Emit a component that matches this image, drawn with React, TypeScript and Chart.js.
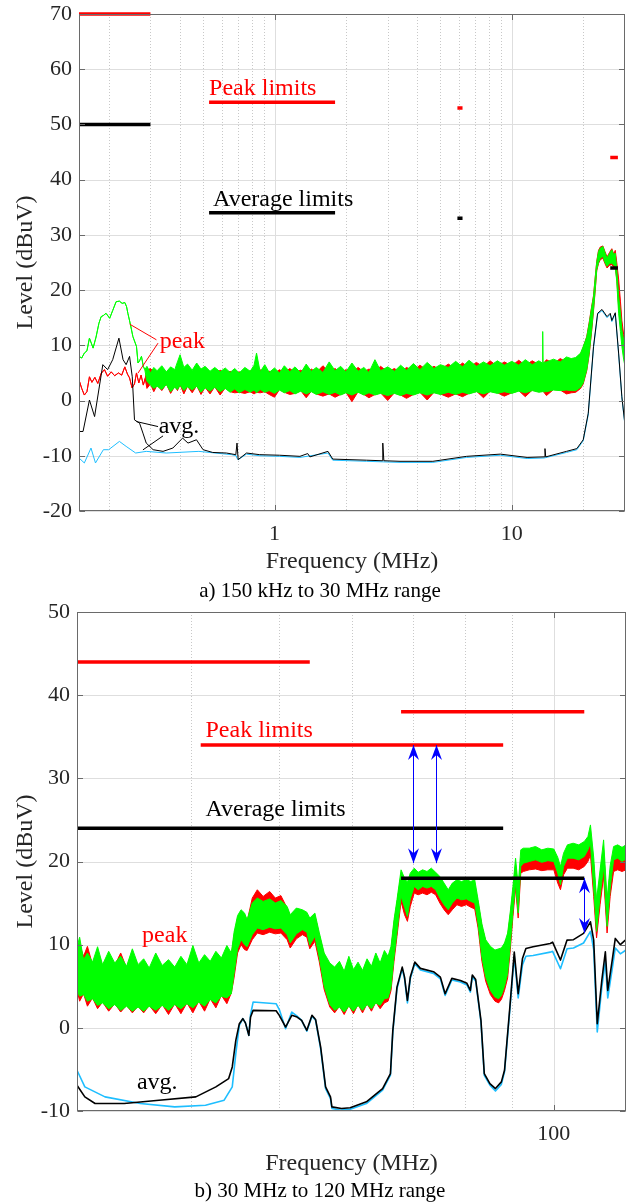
import React, { useEffect, useRef } from "react";
import { Chart, registerables } from "chart.js";

Chart.register(...registerables);

// ================= a) 150 kHz to 30 MHz =================
const topYTicks = [-20, -10, 0, 10, 20, 30, 40, 50, 60, 70];
const topXTicks = [1, 10];
const topXMinor = [0.2, 0.3, 0.4, 0.5, 0.6, 0.7, 0.8, 0.9, 2, 3, 4, 5, 6, 7, 8, 9, 20];

const topGreenLeftF = [0.15, 0.154, 0.158, 0.162, 0.166, 0.172, 0.177, 0.182, 0.186, 0.19,
  0.195, 0.202, 0.208, 0.215, 0.222, 0.228, 0.234, 0.238, 0.241, 0.247,
  0.253, 0.262, 0.266, 0.27, 0.275, 0.28, 0.284];
const topGreenLeftV = [8.0, 7.7, 8.6, 9.0, 11.3, 9.5, 11.5, 14.0, 15.2, 15.4,
  15.8, 14.9, 16.3, 17.9, 18.0, 17.6, 17.75, 17.0, 15.8, 13.8,
  11.6, 9.8, 6.8, 7.2, 8.0, 6.2, 5.6];

const topRedLeftF = [0.15, 0.154, 0.158, 0.162, 0.166, 0.17, 0.175, 0.18, 0.186, 0.192,
  0.198, 0.205, 0.212, 0.22, 0.227, 0.234, 0.24, 0.245, 0.251, 0.257,
  0.262, 0.268, 0.274, 0.28, 0.285];
const topRedLeftV = [3.75, 2.2, 1.0, 1.6, 4.3, 3.3, 4.2, 3.1, 4.9, 5.6,
  4.4, 5.2, 4.5, 5.0, 4.6, 6.1, 4.8, 4.1, 2.3, 3.0,
  5.0, 3.2, 4.6, 2.8, 4.0];

const topBandF = [
  0.29, 0.30, 0.31, 0.32, 0.335, 0.35, 0.365, 0.38, 0.39, 0.40,
  0.415, 0.43, 0.45, 0.47, 0.49, 0.51, 0.535, 0.56, 0.59, 0.62,
  0.65, 0.68, 0.71, 0.75, 0.79, 0.82, 0.84, 0.87, 0.91, 0.95,
  1.0, 1.05, 1.1, 1.16, 1.22, 1.29, 1.36, 1.43, 1.5, 1.6,
  1.7, 1.8, 1.9, 2.0, 2.12, 2.25, 2.38, 2.5, 2.65, 2.8,
  3.0, 3.2, 3.4, 3.6, 3.85, 4.1, 4.4, 4.7, 5.0, 5.4,
  5.8, 6.2, 6.6, 7.1, 7.6, 8.1, 8.7, 9.3, 10, 10.7,
  11.4, 12.2, 13.0, 13.45, 13.5, 13.55, 14.0, 15.0, 16.0, 17.0,
  17.8, 18.6, 19.5, 20.0, 20.7, 21.2, 21.7, 22.1, 22.5, 22.8,
  23.2, 23.6, 24.2, 24.7, 25.2, 25.8, 26.4, 26.9, 27.3, 27.7,
  28.2, 28.7, 29.1, 29.6, 30.0];
const topGreenHi = [
  6.2, 5.0, 6.0, 5.4, 6.3, 5.2, 6.1, 5.6, 7.0, 8.3,
  6.0, 6.6, 5.5, 6.8, 5.7, 6.2, 5.3, 6.0, 5.2, 5.9,
  5.1, 5.8, 5.0, 6.0, 5.3, 6.4, 8.6, 5.2, 6.5, 5.1,
  5.9, 5.0, 6.3, 5.2, 6.1, 5.0, 6.6, 5.3, 6.0, 5.1,
  7.0, 5.4, 6.2, 5.2, 6.8, 5.3, 6.0, 5.1, 7.4, 5.4,
  6.1, 5.3, 6.4, 5.5, 6.7, 5.6, 6.9, 5.8, 6.5, 6.0,
  7.1, 6.1, 7.3, 6.2, 7.0, 6.3, 7.2, 6.4, 7.1, 6.4,
  7.4, 6.5, 7.2, 6.8, 12.5, 6.9, 7.0, 7.5, 7.0, 7.9,
  7.6, 7.8, 8.6, 9.8, 11.5, 14.0, 16.8, 18.8, 22.5, 25.0,
  27.0, 27.6, 27.9, 26.8, 25.8, 26.6, 27.3, 26.4, 26.7, 23.7,
  19.0, 15.9, 12.8, 11.0, 7.4];
const topGreenLo = [
  3.5, 2.8, 2.2, 2.6, 2.0, 2.9, 1.6, 2.4, 2.0, 2.8,
  1.8, 2.5, 1.9, 2.6, 1.5, 2.3, 1.7, 2.4, 1.6, 2.2,
  1.5, 2.1, 1.4, 2.0, 1.5, 1.9, 1.4, 2.0, 1.5, 1.8,
  1.3, 1.9, 1.4, 1.8, 1.2, 1.7, 1.2, 1.6, 1.1, 1.6,
  1.1, 1.5, 1.0, 1.4, 1.0, 1.5, 1.0, 1.4, 1.0, 1.3,
  0.9, 1.3, 0.9, 1.3, 1.0, 1.4, 1.0, 1.4, 1.1, 1.5,
  1.1, 1.5, 1.2, 1.6, 1.2, 1.6, 1.3, 1.6, 1.3, 1.7,
  1.4, 1.8, 1.5, 1.6, 1.7, 1.6, 1.6, 1.9, 1.8, 1.9,
  1.8, 1.8, 2.4, 3.2, 5.6, 8.6, 12.8, 16.5, 20.5, 23.7,
  25.0, 25.8, 26.1, 25.0, 24.3, 24.8, 24.9, 24.5, 24.3, 21.5,
  15.8, 12.5, 9.8, 7.5, 6.2];
const topRedHi = [
  5.5, 5.8, 5.2, 4.8, 5.6, 5.0, 5.8, 5.2, 4.6, 5.5,
  4.9, 5.7, 5.0, 5.4, 4.7, 5.6, 5.1, 4.6, 5.5, 4.9,
  5.3, 4.7, 5.2, 4.8, 5.4, 4.9, 5.0, 5.6, 4.8, 5.3,
  4.9, 5.6, 5.0, 5.8, 5.1, 5.5, 5.0, 5.7, 5.1, 6.3,
  5.2, 5.8, 5.0, 5.6, 5.1, 6.0, 5.2, 5.7, 5.3, 6.2,
  5.2, 5.8, 5.1, 6.0, 5.4, 6.4, 5.5, 6.2, 5.6, 6.6,
  5.8, 6.8, 6.0, 6.9, 6.1, 7.2, 6.2, 7.0, 6.3, 7.3,
  6.4, 7.2, 6.5, 6.6, 6.6, 6.6, 7.4, 6.7, 7.6, 7.0,
  7.4, 7.6, 8.4, 9.6, 11.6, 14.2, 17.0, 19.0, 22.6, 25.2,
  27.2, 27.8, 28.0, 27.0, 26.0, 26.8, 27.5, 26.5, 27.2, 25.0,
  22.0, 18.0, 14.5, 12.0, 11.0];
const topRedLo = [
  2.2, 3.0, 1.6, 2.8, 1.8, 3.0, 1.3, 2.6, 1.8, 2.9,
  1.2, 2.6, 1.4, 2.7, 1.1, 2.4, 1.2, 2.5, 1.0, 2.3,
  1.6, 1.4, 1.5, 1.3, 1.6, 1.2, 1.5, 1.4, 1.6, 1.1,
  0.6, 2.0, 1.5, 1.1, 1.3, 1.8, 0.5, 1.7, 1.2, 0.8,
  1.2, 0.6, 1.1, 1.5, -0.2, 1.6, 1.1, 0.5, 1.1, 1.4,
  0.0, 1.4, 1.0, 0.4, 1.1, 1.5, 0.1, 1.5, 1.2, 0.6,
  1.2, 0.7, 1.3, 1.7, 0.5, 1.7, 1.4, 0.8, 1.4, 1.8,
  0.7, 1.9, 1.6, 1.7, 1.8, 1.7, 0.9, 2.0, 1.9, 1.2,
  1.4, 1.5, 2.2, 3.0, 5.4, 8.4, 12.5, 16.2, 20.2, 23.5,
  24.8, 25.5, 25.8, 24.8, 24.0, 24.5, 24.6, 24.2, 24.0, 22.0,
  17.0, 14.0, 11.5, 10.5, 9.5];

const topBlackF = [0.15, 0.156, 0.166, 0.1745, 0.189, 0.198, 0.208, 0.221, 0.23, 0.237,
  0.245, 0.2515, 0.257, 0.27, 0.279, 0.288, 0.308, 0.339, 0.373, 0.41,
  0.432, 0.469, 0.50, 0.549, 0.627, 0.687, 0.695, 0.703, 0.762, 0.867,
  1.05, 1.28, 1.38, 1.41, 1.68, 1.76, 2.44, 2.84, 2.86, 2.89,
  3.38, 4.65, 6.45, 8.95, 11.6, 13.7, 13.8, 13.9, 17.0, 18.8,
  20.0, 21.0, 22.1, 23.0, 24.0, 25.2, 26.0, 26.4, 27.3, 28.2,
  29.1, 30];
const topBlackV = [-5.6, -5.6, 0.1, -2.9, 6.5, 5.6, 7.4, 11.3, 7.4, 6.5,
  8.0, 4.3, -3.5, -4.1, -5.9, -7.7, -8.9, -9.2, -8.6, -6.8,
  -7.7, -7.1, -8.9, -9.4, -9.5, -9.8, -7.7, -10.7, -9.5, -9.8,
  -9.9, -10.1, -9.6, -10.2, -9.2, -10.6, -10.8, -10.9, -7.7, -10.9,
  -11.0, -11.0, -10.1, -9.7, -10.3, -10.2, -8.7, -10.2, -9.2, -8.7,
  -7.1, -2.3, 9.8, 15.8, 16.5, 15.2, 15.8, 14.5, 15.9, 8.6,
  0.7, -4.4];

const topCyanF = [0.15, 0.158, 0.1685, 0.176, 0.19, 0.2, 0.222, 0.237, 0.26, 0.288,
  0.35, 0.48, 0.66, 0.69, 0.695, 0.703, 0.762, 0.867, 1.05, 1.28,
  1.68, 1.76, 2.44, 2.86, 3.38, 4.65, 6.45, 8.95, 11.6, 13.7,
  17.0, 18.8, 20.0, 21.0, 22.1, 23.0, 24.0, 25.2, 26.0, 26.4,
  27.3, 28.2, 29.1, 30];
const topCyanV = [-10.4, -11.3, -8.6, -11.3, -8.9, -8.9, -7.4, -8.3, -9.5, -9.2,
  -9.5, -9.2, -9.8, -10.0, -10.5, -10.7, -9.7, -10.0, -10.1, -10.3,
  -9.5, -10.8, -11.0, -11.1, -11.2, -11.2, -10.3, -9.9, -10.5, -10.4,
  -9.4, -8.9, -7.3, -2.6, 9.5, 15.6, 16.3, 15.0, 15.6, 14.3,
  15.7, 8.4, 0.5, -4.6];

const topLimStart = [0.15, 0.53, 5.9, 26];
const topLimEnd = [0.3, 1.8, 6.2, 28];
const topPeakLim = [70, 54, 53, 44];
const topAvgLim = [50, 34, 33, 24];

const topNoteText = ["Peak limits", "Average limits", "peak", "avg."];
const topNoteF = [0.53, 0.551, 0.328, 0.325];
const topNoteV = [55.4, 35.3, 9.5, -5.8];

const topLeaderF1 = [0.318, 0.323, 0.323, 0.339];
const topLeaderV1 = [11.0, 10.4, -4.71, -6.4];
const topLeaderF2 = [0.2452, 0.2658, 0.2617, 0.279];
const topLeaderV2 = [13.84, 4.96, -3.8, -8.93];

// ================= b) 30 MHz to 120 MHz =================
const botYTicks = [-10, 0, 10, 20, 30, 40, 50];
const botXTicks = [100];
const botXMinor = [40, 50, 60, 70, 80, 90];

const botBandF = [
  30, 30.2, 30.5, 30.8, 31.2, 31.6, 32, 32.5, 33, 33.5,
  34, 34.5, 35, 35.5, 36, 36.6, 37.2, 37.8, 38.4, 39,
  39.6, 40.2, 40.8, 41.4, 42, 42.6, 43.2, 43.8, 44.3, 44.6,
  45.0, 45.4, 45.8, 46.1, 46.7, 47.3, 48.0, 48.8, 49.5, 50.2,
  51.0, 51.4, 52.2, 53.0, 53.6, 54.0, 54.7, 55.3, 56.0, 56.8,
  57.5, 58.2, 58.9, 59.6, 60.3, 61.0, 61.7, 62.4, 63.1, 63.8,
  64.5, 65.2, 65.8, 66.3, 66.8, 67.3, 68.0, 68.6, 69.1, 69.6,
  70.3, 71.0, 71.8, 72.6, 73.4, 74.2, 75.0, 75.8, 76.6, 77.4,
  78.3, 79.2, 80.2, 81.1, 81.9, 82.6, 83.4, 84.2, 85.2, 86.2,
  87.0, 87.6, 88.3, 89.0, 89.6, 90.2, 90.8, 91.4, 92.0, 92.6,
  94.0, 95.5, 97.0, 98.5, 100.0, 101.0, 101.7, 102.5, 103.5, 105.0,
  106.5, 108.0, 109.0, 109.7, 110.6, 111.4, 112.4, 113.4, 114.4, 115.3,
  116.3, 117.5, 118.8, 120];
const botGreenHi = [
  9.75, 10.9, 8.2, 9.0, 7.9, 9.75, 7.6, 9.2, 7.8, 8.6,
  7.4, 9.5, 7.6, 8.3, 7.2, 9.0, 7.5, 8.2, 7.3, 8.6,
  7.6, 9.9, 7.8, 8.8, 8.0, 9.2, 8.4, 9.9, 9.0, 11.5,
  13.5, 14.2, 13.8, 13.0, 15.0, 15.6, 15.2, 15.5, 15.0, 15.3,
  14.6, 13.6, 14.4, 14.2, 13.9, 13.2, 13.8, 11.5, 9.0, 7.8,
  7.3, 8.0, 6.8, 8.6, 7.0, 7.9, 6.9, 8.3, 7.4, 9.0,
  7.8, 9.3, 8.6, 9.8, 13.0, 15.4, 19.0, 18.0, 17.5, 18.6,
  19.2, 18.7, 19.0, 18.8, 19.2, 18.7, 18.2, 17.4, 16.6, 17.4,
  17.8, 17.6, 17.8, 17.6, 17.8, 15.4, 12.5, 10.6, 9.8, 9.35,
  9.5, 9.6, 10.2, 11.4, 14.0, 17.0, 20.4, 17.0, 21.4, 21.6,
  21.6, 21.8, 21.4, 21.6, 21.5, 20.5, 19.4, 21.0, 22.0, 22.2,
  22.0, 22.4, 23.0, 24.4, 20.5, 15.4, 19.0, 22.6, 15.4, 19.5,
  21.8, 22.0, 21.7, 22.0];
const botGreenLo = [
  4.5, 3.8, 4.0, 3.2, 3.5, 2.7, 3.0, 2.3, 2.8, 2.1,
  2.6, 2.0, 2.5, 2.0, 2.6, 2.1, 2.7, 2.1, 2.8, 2.3,
  2.9, 2.4, 3.1, 2.6, 3.4, 3.0, 3.8, 3.6, 4.1, 6.5,
  9.5, 10.6, 10.0, 9.75, 11.2, 12.0, 11.8, 12.1, 11.9, 12.0,
  11.2, 10.2, 11.3, 11.8, 11.5, 9.95, 11.0, 8.5, 5.0, 2.8,
  2.1, 2.5, 1.9, 2.6, 2.0, 2.7, 2.1, 2.8, 2.3, 3.0,
  2.7, 3.5, 3.6, 4.9, 8.5, 11.5, 15.8, 14.5, 13.4, 15.5,
  17.0, 16.6, 17.0, 16.8, 17.0, 16.6, 15.6, 14.8, 14.2, 15.0,
  15.6, 15.4, 15.5, 15.2, 15.0, 12.5, 8.5, 6.1, 4.5, 3.7,
  3.5, 3.9, 5.0, 6.55, 10.0, 14.0, 17.4, 13.8, 19.4, 19.8,
  20.0, 20.2, 19.9, 20.1, 20.0, 18.6, 17.2, 19.4, 20.4, 20.4,
  20.2, 20.6, 21.4, 22.2, 16.8, 11.6, 15.8, 19.4, 12.2, 16.8,
  20.2, 20.4, 20.0, 20.3];
const botRedHi = [
  9.4, 10.0, 8.6, 9.8, 7.6, 9.2, 7.4, 8.8, 7.5, 9.0,
  7.2, 9.0, 7.4, 8.0, 7.0, 8.4, 7.2, 8.0, 7.1, 8.2,
  7.4, 9.4, 7.6, 8.4, 7.8, 8.8, 8.2, 9.4, 8.8, 11.0,
  13.2, 14.0, 13.6, 12.8, 15.6, 16.6, 15.8, 16.4, 15.6, 15.9,
  14.4, 13.4, 14.2, 14.0, 13.6, 12.8, 13.5, 11.2, 8.8, 7.6,
  7.0, 7.8, 6.6, 8.2, 6.8, 7.6, 6.7, 8.0, 7.2, 8.6,
  7.6, 9.0, 8.4, 9.4, 12.6, 15.0, 18.4, 17.4, 16.8, 18.0,
  18.4, 18.0, 18.3, 18.1, 18.4, 18.0, 17.5, 16.8, 16.0, 16.8,
  17.2, 17.0, 17.2, 17.0, 17.2, 15.0, 12.2, 10.4, 9.6, 9.2,
  9.3, 9.4, 10.0, 11.0, 13.6, 16.4, 19.6, 16.4, 20.4, 20.5,
  20.6, 20.8, 20.5, 20.7, 20.6, 19.6, 18.4, 20.2, 21.0, 21.2,
  21.0, 21.4, 22.0, 23.2, 19.6, 14.8, 18.2, 21.4, 14.8, 18.8,
  20.8, 21.0, 20.7, 21.0];
const botRedLo = [
  4.6, 3.2, 4.1, 2.6, 3.6, 2.3, 3.1, 2.0, 2.9, 1.9,
  2.7, 1.8, 2.6, 1.8, 2.7, 1.7, 2.8, 1.6, 2.9, 1.7,
  3.0, 1.8, 3.2, 2.0, 3.5, 2.4, 3.9, 2.9, 4.2, 6.0,
  9.0, 10.0, 9.4, 9.3, 10.6, 11.4, 11.2, 11.5, 11.3, 11.4,
  10.6, 9.6, 10.7, 11.2, 10.9, 9.5, 10.4, 8.0, 4.6, 2.5,
  1.8, 2.6, 1.6, 2.7, 1.7, 2.8, 1.8, 2.9, 2.0, 3.1,
  2.3, 3.0, 3.2, 4.5, 8.0, 11.0, 15.2, 13.6, 12.8, 14.6,
  16.2, 16.0, 16.2, 16.0, 16.3, 16.0, 15.0, 14.2, 13.6, 14.2,
  14.8, 14.6, 14.8, 14.5, 14.3, 12.0, 8.0, 5.6, 4.0, 3.2,
  3.0, 3.4, 4.5, 6.0, 9.4, 13.4, 16.8, 13.2, 18.6, 18.8,
  19.0, 19.1, 18.9, 19.0, 19.0, 17.4, 16.6, 18.4, 19.2, 19.2,
  19.0, 19.4, 20.0, 20.8, 15.8, 10.8, 14.8, 18.2, 11.4, 15.8,
  18.8, 19.0, 18.8, 19.0];

const botBlackF = [30, 30.6, 31.4, 33.8, 36.9, 40.5, 42.6, 44.0, 44.4, 44.8,
  45.2, 45.6, 45.9, 46.3, 46.5, 46.8, 49.6, 50.0, 50.8, 51.6,
  52.3, 52.9, 53.6, 54.3, 54.8, 55.5, 56.2, 56.9, 57.1, 58.5,
  59.8, 62.3, 64.9, 66.2, 66.6, 67.3, 68.2, 68.6, 69.1, 69.6,
  70.4, 71.4, 73.8, 75.1, 76.0, 77.3, 79.0, 80.3, 81.0, 81.4,
  82.1, 83.2, 83.9, 85.1, 86.3, 87.6, 88.3, 89.5, 90.5, 91.4,
  92.4, 93.2, 94.9, 99.1, 99.7, 101.7, 103.4, 105.1, 107.8, 109.7,
  110.6, 111.6, 112.9, 113.9, 114.6, 115.9, 116.8, 118.3, 119.8, 120];
const botBlackV = [-6.9, -8.3, -9.1, -9.1, -8.7, -8.3, -7.1, -6.1, -4.7, -1.5,
  0.5, 1.1, 0.6, -0.9, 1.3, 2.1, 2.05, 1.5, 0.1, 1.5,
  1.3, 0.9, -0.3, 1.5, 1.0, -2.3, -7.1, -8.3, -9.5, -9.7,
  -9.6, -8.9, -7.3, -5.5, -0.3, 4.9, 7.3, 6.1, 3.3, 6.1,
  7.9, 7.15, 6.75, 6.1, 4.1, 5.95, 5.7, 5.35, 4.5, 6.35,
  5.8, 0.9, -5.5, -6.7, -7.3, -6.5, -5.1, 2.5, 9.1, 4.1,
  8.35, 9.55, 9.75, 10.15, 10.3, 8.15, 10.55, 10.6, 11.35, 12.75,
  10.55, 0.5, 5.75, 9.15, 4.5, 8.15, 10.75, 10.0, 10.55, 10.6];

const botCyanF = [30, 30.6, 32.2, 35.2, 38.4, 41.5, 43.5, 44.4, 44.8, 45.2,
  45.6, 45.9, 46.3, 46.5, 46.8, 49.6, 50.0, 50.8, 51.6, 52.3,
  52.9, 53.6, 54.3, 54.8, 55.5, 56.2, 56.9, 57.1, 58.5, 59.8,
  62.3, 64.9, 66.2, 66.6, 67.3, 68.2, 68.6, 69.1, 69.6, 70.4,
  71.4, 73.8, 75.1, 76.0, 77.3, 79.0, 80.3, 81.0, 81.4, 82.1,
  83.2, 83.9, 85.1, 86.3, 87.6, 88.3, 89.5, 90.5, 91.4, 92.4,
  93.2, 94.9, 99.1, 99.7, 101.7, 103.4, 105.1, 107.8, 109.7, 110.6,
  111.6, 112.9, 113.9, 114.6, 115.9, 116.8, 118.3, 119.8, 120];
const botCyanV = [-5.1, -7.1, -8.3, -9.1, -9.5, -9.3, -8.7, -7.1, -3.1, 0.3,
  1.1, 0.6, -0.9, 1.6, 3.1, 2.9, 2.2, -0.1, 1.9, 1.4,
  0.9, -0.4, 1.4, 0.9, -2.5, -7.3, -8.5, -9.7, -9.9, -9.8,
  -9.1, -7.5, -5.7, -0.5, 4.7, 7.1, 5.9, 3.0, 5.9, 7.7,
  6.95, 6.55, 5.9, 3.9, 5.75, 5.5, 5.15, 4.3, 6.15, 5.6,
  0.7, -5.7, -6.9, -7.6, -6.8, -5.3, 2.2, 8.6, 3.6, 7.6,
  8.6, 8.7, 9.1, 9.2, 7.1, 9.5, 9.6, 10.2, 11.6, 9.4,
  -0.5, 4.9, 8.0, 3.6, 7.1, 9.6, 8.9, 9.3, 9.4];

const botPeakStart = [30, 41, 68];
const botPeakEnd = [54, 88, 108];
const botPeakLim = [44, 34, 38];
const botAvgStart = [30, 41, 68];
const botAvgEnd = [54, 88, 108];
const botAvgLim = [24, 24, 18];

const botNoteText = ["Peak limits", "Average limits", "peak", "avg."];
const botNoteF = [41.5, 41.5, 35.36, 34.9];
const botNoteV = [35.0, 25.5, 10.35, -7.4];

const botArrowF = [70.1, 74.2, 107.8];
const botArrowFrom = [34, 34, 18];
const botArrowTo = [19.8, 19.8, 11.4];

// ================= styling =================
const SERIF = '"Liberation Serif", "Times New Roman", serif';
const TXT = "#262626";
const RED = "#ff0000";
const GREEN = "#00ff00";
const CYAN = "#1ebeff";
const BLACK = "#000000";
const BLUE = "#0000ff";
const noteColors = [RED, BLACK, RED, BLACK];
const leaderColors = [RED, RED, BLACK, BLACK];

const pts = (f: number[], v: number[]) => f.map((x, i) => ({ x, y: v[i] }));
const segs = (s: number[], e: number[], lv: number[]) =>
  s.flatMap((x, i) => [{ x, y: lv[i] }, { x: e[i], y: lv[i] }, { x: e[i], y: null as any }]);

const line = (data: any[], color: string, width: number, order: number, extra: any = {}) => ({
  data,
  borderColor: color,
  backgroundColor: color,
  borderWidth: width,
  pointRadius: 0,
  pointHoverRadius: 0,
  tension: 0,
  fill: false,
  order,
  borderJoinStyle: "round",
  ...extra,
});

type Spec = {
  xMin: number; xMax: number; yMin: number; yMax: number;
  xTicks: number[]; xMinor: number[]; yTicks: number[];
  yWidth: number; xHeight: number; padTop: number; padRight: number;
  datasets: any[];
  notes: { text: string; f: number; v: number; color: string }[];
  leaders: { f1: number; v1: number; f2: number; v2: number; color: string }[];
  arrows: { f: number; v1: number; v2: number }[];
};

function arrowHead(ctx: CanvasRenderingContext2D, x: number, yTip: number, dir: number) {
  const L = 15, W = 5.5, N = 5;
  ctx.beginPath();
  ctx.moveTo(x, yTip);
  ctx.lineTo(x - W, yTip - dir * L);
  ctx.lineTo(x, yTip - dir * (L - N));
  ctx.lineTo(x + W, yTip - dir * L);
  ctx.closePath();
  ctx.fill();
}

function decorPlugin(s: Spec) {
  return {
    id: "emcDecor",
    beforeDatasetsDraw(chart: any) {
      const { ctx, chartArea: a } = chart;
      const xs = chart.scales.x, ys = chart.scales.y;
      ctx.save();
      ctx.lineWidth = 1;
      ctx.strokeStyle = "#dedede";
      for (const v of s.yTicks) {
        const p = Math.round(ys.getPixelForValue(v)) + 0.5;
        ctx.beginPath(); ctx.moveTo(a.left, p); ctx.lineTo(a.right, p); ctx.stroke();
      }
      for (const v of s.xTicks) {
        const p = Math.round(xs.getPixelForValue(v)) + 0.5;
        ctx.beginPath(); ctx.moveTo(p, a.top); ctx.lineTo(p, a.bottom); ctx.stroke();
      }
      ctx.strokeStyle = "#c8c8c8";
      ctx.setLineDash([1, 2]);
      for (const v of s.xMinor) {
        const p = Math.round(xs.getPixelForValue(v)) + 0.5;
        ctx.beginPath(); ctx.moveTo(p, a.top); ctx.lineTo(p, a.bottom); ctx.stroke();
      }
      ctx.restore();
    },
    afterDatasetsDraw(chart: any) {
      const { ctx, chartArea: a } = chart;
      const xs = chart.scales.x, ys = chart.scales.y;
      ctx.save();
      ctx.lineWidth = 1;
      for (const l of s.leaders) {
        ctx.strokeStyle = l.color;
        ctx.beginPath();
        ctx.moveTo(xs.getPixelForValue(l.f1), ys.getPixelForValue(l.v1));
        ctx.lineTo(xs.getPixelForValue(l.f2), ys.getPixelForValue(l.v2));
        ctx.stroke();
      }
      ctx.strokeStyle = BLUE;
      ctx.fillStyle = BLUE;
      for (const ar of s.arrows) {
        const x = Math.round(xs.getPixelForValue(ar.f)) + 0.5;
        const y1 = ys.getPixelForValue(ar.v1);
        const y2 = ys.getPixelForValue(ar.v2);
        ctx.beginPath(); ctx.moveTo(x, y1); ctx.lineTo(x, y2); ctx.stroke();
        arrowHead(ctx, x, y1, -1);
        arrowHead(ctx, x, y2, 1);
      }
      ctx.font = `24px ${SERIF}`;
      ctx.textAlign = "left";
      ctx.textBaseline = "alphabetic";
      for (const n of s.notes) {
        ctx.fillStyle = n.color;
        ctx.fillText(n.text, xs.getPixelForValue(n.f), ys.getPixelForValue(n.v));
      }
      const L = Math.round(a.left) + 0.5, R = Math.round(a.right) - 0.5;
      const T = Math.round(a.top) + 0.5, B = Math.round(a.bottom) - 0.5;
      ctx.strokeStyle = "#6a6a6a";
      ctx.lineWidth = 1;
      ctx.strokeRect(L, T, R - L, B - T);
      const tk = 5.5;
      ctx.beginPath();
      for (const v of s.yTicks) {
        const p = Math.round(ys.getPixelForValue(v)) + 0.5;
        ctx.moveTo(L, p); ctx.lineTo(L + tk, p);
        ctx.moveTo(R, p); ctx.lineTo(R - tk, p);
      }
      for (const v of s.xTicks) {
        const p = Math.round(xs.getPixelForValue(v)) + 0.5;
        ctx.moveTo(p, B); ctx.lineTo(p, B - tk);
        ctx.moveTo(p, T); ctx.lineTo(p, T + tk);
      }
      ctx.stroke();
      ctx.restore();
    },
  };
}

function buildConfig(s: Spec): any {
  const tickFont = { family: SERIF, size: 22, lineHeight: 1 };
  const titleFont = { family: SERIF, size: 24, lineHeight: 1.2 };
  return {
    type: "line",
    data: { datasets: s.datasets },
    plugins: [decorPlugin(s)],
    options: {
      responsive: false,
      animation: false,
      events: [],
      layout: { padding: { top: s.padTop, right: s.padRight, bottom: 0, left: 0 } },
      plugins: { legend: { display: false }, tooltip: { enabled: false }, title: { display: false } },
      scales: {
        x: {
          type: "logarithmic",
          min: s.xMin,
          max: s.xMax,
          afterBuildTicks: (sc: any) => { sc.ticks = s.xTicks.map((v) => ({ value: v })); },
          afterFit: (sc: any) => { sc.height = s.xHeight; sc.paddingLeft = 0; sc.paddingRight = 0; },
          ticks: { callback: (v: any) => String(v), autoSkip: false, maxRotation: 0, minRotation: 0, font: tickFont, color: TXT, padding: 12 },
          grid: { display: false, drawTicks: false },
          border: { display: false },
          title: { display: true, text: "Frequency (MHz)", font: titleFont, color: TXT, padding: { top: 0, bottom: 23.4 } },
        },
        y: {
          type: "linear",
          min: s.yMin,
          max: s.yMax,
          afterFit: (sc: any) => { sc.width = s.yWidth; sc.paddingTop = 0; sc.paddingBottom = 0; },
          ticks: { stepSize: 10, font: tickFont, color: TXT, padding: 7 },
          grid: { display: false, drawTicks: false },
          border: { display: false },
          title: { display: true, text: "Level (dBuV)", font: titleFont, color: TXT, padding: { top: 11.6, bottom: 0 } },
        },
      },
    },
  };
}

const topLeftG = pts(topGreenLeftF, topGreenLeftV);
const topLeftR = pts(topRedLeftF, topRedLeftV);

const topSpec: Spec = {
  xMin: 0.15, xMax: 30, yMin: -20, yMax: 70,
  xTicks: topXTicks, xMinor: topXMinor, yTicks: topYTicks,
  yWidth: 79, xHeight: 89, padTop: 14, padRight: 2,
  datasets: [
    line([...topLeftR, ...pts(topBandF, topRedHi)], RED, 1, 6, { fill: "+1" }),
    line([...topLeftR, ...pts(topBandF, topRedLo)], RED, 1, 6),
    line([...topLeftG, ...pts(topBandF, topGreenHi)], GREEN, 1, 5, { fill: "+1" }),
    line([...topLeftG, ...pts(topBandF, topGreenLo)], GREEN, 1, 5),
    line(pts(topCyanF, topCyanV), CYAN, 1, 4),
    line(pts(topBlackF, topBlackV), BLACK, 1, 3),
    line(segs(topLimStart, topLimEnd, topAvgLim), BLACK, 3.5, 1, { borderCapStyle: "butt", clip: 4 }),
    line(segs(topLimStart, topLimEnd, topPeakLim), RED, 3.5, 1, { borderCapStyle: "butt", clip: 4 }),
  ],
  notes: topNoteText.map((t, i) => ({ text: t, f: topNoteF[i], v: topNoteV[i], color: noteColors[i] })),
  leaders: topLeaderF1.map((f, i) => ({ f1: f, v1: topLeaderV1[i], f2: topLeaderF2[i], v2: topLeaderV2[i], color: leaderColors[i] })),
  arrows: [],
};

const botSpec: Spec = {
  xMin: 30, xMax: 120, yMin: -10, yMax: 50,
  xTicks: botXTicks, xMinor: botXMinor, yTicks: botYTicks,
  yWidth: 77, xHeight: 91, padTop: 12, padRight: 1,
  datasets: [
    line(pts(botBandF, botRedHi), RED, 1, 6, { fill: "+1" }),
    line(pts(botBandF, botRedLo), RED, 1, 6),
    line(pts(botBandF, botGreenHi), GREEN, 1, 5, { fill: "+1" }),
    line(pts(botBandF, botGreenLo), GREEN, 1, 5),
    line(pts(botCyanF, botCyanV), CYAN, 1.6, 4),
    line(pts(botBlackF, botBlackV), BLACK, 1.6, 3),
    line(segs(botAvgStart, botAvgEnd, botAvgLim), BLACK, 3.5, 1, { borderCapStyle: "butt", clip: 4 }),
    line(segs(botPeakStart, botPeakEnd, botPeakLim), RED, 3.5, 1, { borderCapStyle: "butt", clip: 4 }),
  ],
  notes: botNoteText.map((t, i) => ({ text: t, f: botNoteF[i], v: botNoteV[i], color: noteColors[i] })),
  leaders: [],
  arrows: botArrowF.map((f, i) => ({ f, v1: botArrowFrom[i], v2: botArrowTo[i] })),
};

function EmcChart({ spec, height, top }: { spec: Spec; height: number; top: number }) {
  const ref = useRef<HTMLCanvasElement>(null);
  useEffect(() => {
    const chart = new Chart(ref.current as HTMLCanvasElement, buildConfig(spec));
    return () => chart.destroy();
  }, [spec]);
  return (
    <canvas
      ref={ref}
      width={627}
      height={height}
      style={{ position: "absolute", left: 0, top, width: 627, height, display: "block" }}
    />
  );
}

const captionStyle = (top: number): React.CSSProperties => ({
  position: "absolute",
  left: 10,
  top,
  width: 620,
  textAlign: "center",
  fontFamily: SERIF,
  fontSize: 21,
  lineHeight: "21px",
  color: "#000",
  whiteSpace: "nowrap",
});

export default function App() {
  return (
    <div style={{ position: "absolute", left: 0, top: 0, width: 627, height: 1202, background: "#fff", overflow: "hidden" }}>
      <EmcChart spec={topSpec} height={600} top={0} />
      <div style={captionStyle(580)}>a) 150 kHz to 30 MHz range</div>
      <EmcChart spec={botSpec} height={602} top={600} />
      <div style={captionStyle(1180)}>b) 30 MHz to 120 MHz range</div>
    </div>
  );
}
